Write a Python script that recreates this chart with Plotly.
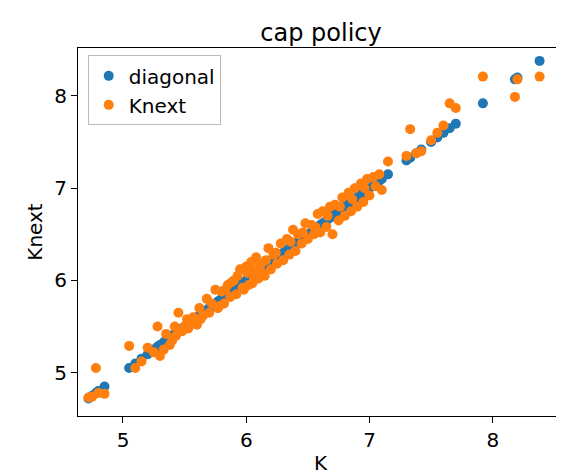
import plotly.graph_objects as go

K = [4.72,4.75,4.78,4.80,4.85,5.05,5.10,5.15,5.20,5.25,5.28,5.30,5.33,5.35,5.38,5.40,5.42,5.45,5.48,5.50,
     5.52,5.55,5.57,5.60,5.62,5.65,5.68,5.70,5.72,5.75,5.77,5.80,5.82,5.85,5.87,5.90,5.92,5.95,5.97,6.00,
     6.02,6.04,6.06,6.08,6.10,6.12,6.15,6.18,6.20,6.22,6.25,6.28,6.30,6.33,6.35,6.38,6.40,6.42,6.45,6.48,
     6.50,6.53,6.55,6.58,6.60,6.62,6.65,6.68,6.70,6.72,6.75,6.78,6.80,6.83,6.85,6.88,6.90,6.93,6.95,6.98,
     7.00,7.03,7.05,7.08,7.10,7.15,7.30,7.33,7.38,7.42,7.50,7.55,7.60,7.65,7.70,7.92,8.18,8.20,8.38,
     5.88,5.93,5.98,6.01,6.03,6.05,6.07,6.09,6.11,6.13,6.16,5.83,5.78,6.24,6.36,6.46,6.56,6.66,6.76,6.86,
     6.96,5.63,5.53,5.43]
Knext = [4.73,4.74,5.05,4.78,4.77,5.29,5.05,5.12,5.27,5.22,5.50,5.18,5.25,5.42,5.30,5.35,5.50,5.65,5.45,5.50,
         5.58,5.55,5.60,5.52,5.70,5.62,5.80,5.65,5.75,5.90,5.70,5.88,5.75,5.95,5.82,6.00,5.85,6.12,5.92,6.15,
         5.95,6.20,6.00,6.25,6.02,6.18,6.05,6.35,6.12,6.28,6.18,6.40,6.22,6.45,6.28,6.55,6.32,6.50,6.40,6.62,
         6.45,6.60,6.50,6.72,6.52,6.75,6.58,6.80,6.50,6.82,6.65,6.90,6.70,6.95,6.75,7.00,6.80,7.05,6.85,7.10,
         6.92,7.12,7.02,7.15,6.98,7.29,7.35,7.64,7.38,7.40,7.52,7.60,7.68,7.92,7.87,8.21,7.99,8.18,8.21,
         5.98,6.05,5.90,6.08,6.12,5.97,6.10,6.05,6.15,6.08,6.22,5.90,5.72,6.30,6.42,6.52,6.58,6.70,6.80,6.88,
         7.00,5.58,5.48,5.40]

fig = go.Figure()
fig.add_trace(go.Scatter(x=K, y=K, mode="markers", name="diagonal",
                         marker=dict(color="#1f77b4", size=10)))
fig.add_trace(go.Scatter(x=K, y=Knext, mode="markers", name="Knext",
                         marker=dict(color="#ff7f0e", size=10)))
ax = dict(showgrid=False, zeroline=False, showline=True, mirror=True, linecolor="black",
          ticks="outside", ticklen=6, tickcolor="black", tickfont=dict(size=20))
fig.update_layout(
    width=564, height=472, plot_bgcolor="white", paper_bgcolor="white",
    font=dict(family="DejaVu Sans", color="black"),
    margin=dict(l=70, r=9, t=40, b=64),
    title=dict(text="cap policy", x=0.555, xanchor="center", y=0.965, font=dict(size=24)),
    xaxis=dict(ax, title=dict(text="K", font=dict(size=20), standoff=4), range=[4.635, 8.57], tickvals=[5,6,7,8]),
    yaxis=dict(ax, title=dict(text="Knext", font=dict(size=20), standoff=6), range=[4.53, 8.52], tickvals=[5,6,7,8]),
    legend=dict(x=0.02, y=0.98, xanchor="left", yanchor="top", bordercolor="#bbbbbb", borderwidth=1,
                font=dict(size=20), bgcolor="rgba(255,255,255,0.8)"),
)
fig.write_html("out.html")
